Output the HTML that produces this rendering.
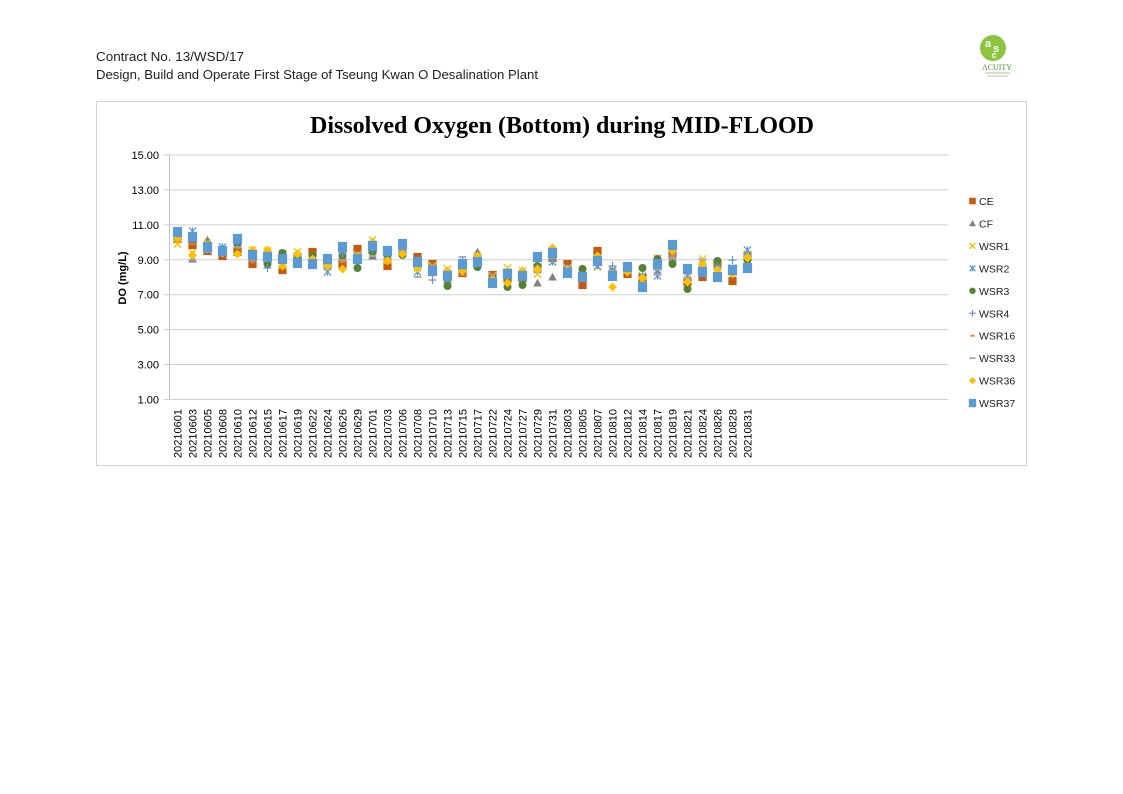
<!DOCTYPE html>
<html><head><meta charset="utf-8"><style>
html,body{margin:0;padding:0;background:#fff;}
svg{display:block;}
text{font-family:"Liberation Sans",sans-serif;}
</style></head><body>
<svg id="s" width="1123" height="794" viewBox="0 0 1123 794" xmlns="http://www.w3.org/2000/svg">
<rect width="1123" height="794" fill="#fff"/>
<text x="96" y="61" font-size="13" fill="#222" textLength="148" lengthAdjust="spacingAndGlyphs">Contract No. 13/WSD/17</text>
<text x="96" y="79" font-size="13" fill="#222" textLength="442" lengthAdjust="spacingAndGlyphs">Design, Build and Operate First Stage of Tseung Kwan O Desalination Plant</text>
<!-- logo -->
<circle cx="993" cy="48" r="13" fill="#8cc63f"/>
<text x="988" y="47" font-size="11" font-weight="bold" fill="#fff" text-anchor="middle">a</text>
<text x="996" y="52" font-size="11" font-weight="bold" fill="#fff" text-anchor="middle">s</text>
<text x="994" y="58" font-size="9" font-weight="bold" fill="#fff" text-anchor="middle">c</text>
<text x="997" y="70" font-size="8.5" fill="#4f8f3a" text-anchor="middle" style="font-family:'Liberation Serif',serif" textLength="30" lengthAdjust="spacingAndGlyphs">ACUITY</text>
<line x1="985" y1="73" x2="1010" y2="73" stroke="#a9c99a" stroke-width="1"/>
<line x1="987" y1="76" x2="1008" y2="76" stroke="#c9a9a0" stroke-width="0.8"/>
<!-- chart frame -->
<rect x="96.5" y="101.5" width="930" height="364" fill="#fff" stroke="#d4d4d4" stroke-width="1"/>
<text x="310" y="133" font-size="24" font-weight="bold" fill="#000" style="font-family:'Liberation Serif',serif" textLength="504" lengthAdjust="spacingAndGlyphs">Dissolved Oxygen (Bottom) during MID-FLOOD</text>
<g id="grid"></g>
<line x1="169.5" y1="155" x2="169.5" y2="400" stroke="#bfbfbf" stroke-width="1"/>
<text transform="translate(126,278) rotate(-90)" font-size="11" font-weight="bold" text-anchor="middle" fill="#000">DO (mg/L)</text>
<g id="xl"></g>
<g id="pts"></g>
<g id="leg"></g>
</svg>
<script>
(function(){
var NS="http://www.w3.org/2000/svg";
function el(tag,attrs,parent,txt){var e=document.createElementNS(NS,tag);for(var k in attrs)e.setAttribute(k,attrs[k]);if(txt!==undefined)e.textContent=txt;parent.appendChild(e);return e;}
var grid=document.getElementById('grid');
var labs=["15.00","13.00","11.00","9.00","7.00","5.00","3.00","1.00"];
for(var k=0;k<8;k++){
  var y=155+k*34.93;
  el('line',{x1:164,x2:948,y1:y.toFixed(1),y2:y.toFixed(1),stroke:"#d0d0d0","stroke-width":1},grid);
  el('text',{x:159,y:(y+4).toFixed(1),"font-size":11,"text-anchor":"end",fill:"#000"},grid,labs[k]);
}
var dates=["20210601","20210603","20210605","20210608","20210610","20210612","20210615","20210617","20210619","20210622","20210624","20210626","20210629","20210701","20210703","20210706","20210708","20210710","20210713","20210715","20210717","20210722","20210724","20210727","20210729","20210731","20210803","20210805","20210807","20210810","20210812","20210814","20210817","20210819","20210821","20210824","20210826","20210828","20210831"];
var xl=document.getElementById('xl');
for(var i=0;i<dates.length;i++){
  var cx=177.5+15*i;
  el('text',{transform:"translate("+(cx+4)+",409) rotate(-90)","font-size":11,"text-anchor":"end",fill:"#000"},xl,dates[i]);
}
var D=[
[239,237,244,235,237,236,240,238,238,232],
[245,259,253,231,240,238,244,260,255,237],
[251,240,243,247,249,250,244,252,245,247],
[256,253,252,247,252,252,254,255,253,251],
[252,245,244,240,246,243,248,247,254,239],
[264,258,250,255,258,260,262,260,250,255],
[258,256,251,255,264,268,260,258,250,257],
[270,256,265,254,253,258,266,262,266,259],
[258,255,252,256,257,254,256,256,254,263],
[252,256,258,260,256,262,259,258,259,264],
[264,266,266,272,263,262,265,264,266,259],
[264,256,255,256,256,254,262,260,269,247],
[249,258,255,256,268,257,254,255,256,259],
[250,256,240,248,252,250,246,256,242,246],
[266,258,260,256,258,255,262,258,261,251],
[250,252,253,248,255,250,252,252,254,244],
[257,262,268,272,265,268,266,277,268,262],
[264,270,266,268,272,280,267,274,270,271],
[276,280,269,273,286,277,275,278,271,276],
[273,266,270,268,271,260,275,257,271,264],
[260,252,256,258,267,259,260,260,256,262],
[275,278,276,277,279,278,276,278,280,283],
[278,276,268,272,287,275,274,276,283,274],
[278,276,271,276,285,277,275,277,271,276],
[268,283,274,270,266,268,270,272,269,257],
[258,277,262,262,256,256,258,258,248,253],
[264,268,268,270,268,268,268,266,270,273],
[285,275,274,276,269,277,280,278,276,277],
[251,262,267,266,258,262,256,260,256,261],
[276,272,272,270,272,266,274,270,287,276],
[274,270,268,270,270,267,272,270,272,267],
[278,276,280,276,268,278,280,279,278,287],
[265,272,258,276,259,270,268,274,266,264],
[255,258,262,257,264,256,256,258,251,245],
[282,280,279,276,289,278,280,278,282,269],
[277,268,259,262,270,268,266,266,264,272],
[264,266,266,264,261,266,268,268,270,277],
[281,272,270,268,272,260,275,266,274,270],
[256,253,254,250,260,255,256,255,258,268]
];
var C=["#c55a11","#808080","#ffc000","#5b9bd5","#548235","#6a8fcf","#ed7d31","#a5a5a5","#ffc000","#5b9bd5"];
function mk(s,x,y,g,sc){
  sc=sc||1;var c=C[s];var h;
  switch(s){
    case 0: h=4.1*sc; el('rect',{x:x-h,y:y-h,width:2*h,height:2*h,fill:c},g);break;
    case 1: h=4.3*sc; el('polygon',{points:(x)+","+(y-h)+" "+(x+h)+","+(y+h*0.8)+" "+(x-h)+","+(y+h*0.8),fill:c},g);break;
    case 2: h=3.6*sc; el('path',{d:"M"+(x-h)+" "+(y-h)+"L"+(x+h)+" "+(y+h)+"M"+(x+h)+" "+(y-h)+"L"+(x-h)+" "+(y+h),stroke:c,"stroke-width":1.4,fill:"none"},g);break;
    case 3: h=3.6*sc; el('path',{d:"M"+(x-h)+" "+(y-h)+"L"+(x+h)+" "+(y+h)+"M"+(x+h)+" "+(y-h)+"L"+(x-h)+" "+(y+h)+"M"+x+" "+(y-h)+"L"+x+" "+(y+h),stroke:c,"stroke-width":1.3,fill:"none"},g);break;
    case 4: h=4*sc; el('circle',{cx:x,cy:y,r:h,fill:c},g);break;
    case 5: h=4*sc; el('path',{d:"M"+(x-h)+" "+y+"L"+(x+h)+" "+y+"M"+x+" "+(y-h)+"L"+x+" "+(y+h),stroke:c,"stroke-width":1.2,fill:"none"},g);break;
    case 6: h=2.5*sc; el('line',{x1:x-h,x2:x+h,y1:y,y2:y,stroke:c,"stroke-width":2},g);break;
    case 7: h=3.8*sc; el('line',{x1:x-h,x2:x+h,y1:y,y2:y,stroke:c,"stroke-width":1.8},g);break;
    case 8: h=4.5*sc; el('polygon',{points:x+","+(y-h)+" "+(x+h)+","+y+" "+x+","+(y+h)+" "+(x-h)+","+y,fill:c},g);break;
    case 9: h=4.6*sc; el('rect',{x:x-h,y:y-h-0.5,width:2*h,height:2*h+1,fill:c},g);break;
  }
}
var pts=document.getElementById('pts');
for(var s=0;s<10;s++){
  for(var i=0;i<D.length;i++){
    mk(s,177.5+15*i,D[i][s],pts);
  }
}
var leg=document.getElementById('leg');
var names=["CE","CF","WSR1","WSR2","WSR3","WSR4","WSR16","WSR33","WSR36","WSR37"];
for(var s=0;s<10;s++){
  var y=201+s*22.45;
  mk(s,972.5,y,leg,0.8);
  el('text',{x:979,y:(y+4).toFixed(1),"font-size":10.5,fill:"#222"},leg,names[s]);
}
})();
</script>
</body></html>
